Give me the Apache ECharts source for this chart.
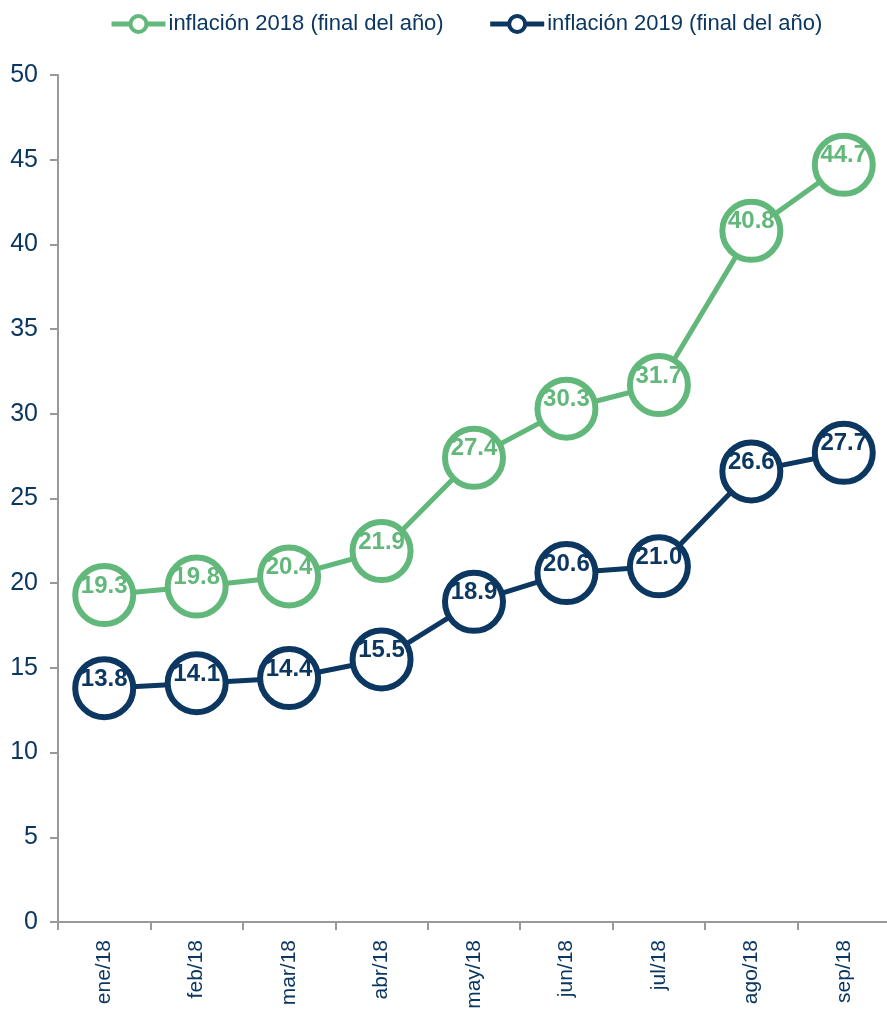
<!DOCTYPE html>
<html>
<head>
<meta charset="utf-8">
<script src="https://cdn.jsdelivr.net/npm/echarts@6/dist/echarts.min.js"></script>
<style>
  html, body { margin: 0; padding: 0; background: #fff; }
  #chart { width: 887px; height: 1009px; }
</style>
</head>
<body>
<div id="chart"></div>
<script>
var months = ['ene/18', 'feb/18', 'mar/18', 'abr/18', 'may/18', 'jun/18', 'jul/18', 'ago/18', 'sep/18'];
var infl2018 = [19.3, 19.8, 20.4, 21.9, 27.4, 30.3, 31.7, 40.8, 44.7];
var infl2019 = [13.8, 14.1, 14.4, 15.5, 18.9, 20.6, 21.0, 26.6, 27.7];
var seriesNames = ['inflación 2018 (final del año)', 'inflación 2019 (final del año)'];

var green = '#62B87B';
var navy = '#0B3761';
var font = '"Liberation Sans Narrow", "Arial Narrow", "Liberation Sans", sans-serif';

function mkSeries(name, data, color) {
    return {
        name: name,
        type: 'line',
        data: data,
        symbol: 'circle',
        symbolSize: 58,
        lineStyle: { color: color, width: 5 },
        itemStyle: { color: '#fff', borderColor: color, borderWidth: 6 },
        label: {
            show: true,
            position: 'inside',
            offset: [0, -9],
            color: color,
            fontFamily: font,
            fontWeight: 'bold',
            fontSize: 24,
            formatter: function (p) { return p.value.toFixed(1) }
        },
        emphasis: { disabled: true },
        animation: false
    }
}

function legendItem(name, color) {
    return {
        name: name,
        itemStyle: { color: '#fff', borderColor: color, borderWidth: 4 },
        lineStyle: { color: color, width: 5 }
    }
}

var myChart = echarts.init(document.getElementById('chart'));
var option = {
    animation: false,
    legend: {
        top: 8,
        left: 104,
        itemGap: 44,
        itemWidth: 54,
        itemHeight: 20,
        textStyle: { color: navy, fontFamily: font, fontSize: 22, padding: [0, 0, 0, -2] },
        data: [legendItem(seriesNames[0], green), legendItem(seriesNames[1], navy)]
    },
    grid: { left: 58, top: 75, width: 832, bottom: 87, containLabel: false, outerBoundsMode: 'none' },
    xAxis: {
        type: 'category',
        data: months,
        boundaryGap: true,
        axisLine: { lineStyle: { color: '#999', width: 2 } },
        axisTick: { show: true, length: 8, inside: false, lineStyle: { color: '#999', width: 2 } },
        axisLabel: { rotate: 90, color: navy, fontFamily: font, fontSize: 21, margin: 18 }
    },
    yAxis: {
        type: 'value',
        min: 0,
        max: 50,
        interval: 5,
        splitLine: { show: false },
        axisLine: { show: true, lineStyle: { color: '#999', width: 2 } },
        axisTick: { show: true, length: 8, lineStyle: { color: '#999', width: 2 } },
        axisLabel: { color: navy, fontFamily: font, fontSize: 25, margin: 20 }
    },
    series: [
        mkSeries(seriesNames[0], infl2018, green),
        mkSeries(seriesNames[1], infl2019, navy)
    ]
};
myChart.setOption(option);
</script>
</body>
</html>
